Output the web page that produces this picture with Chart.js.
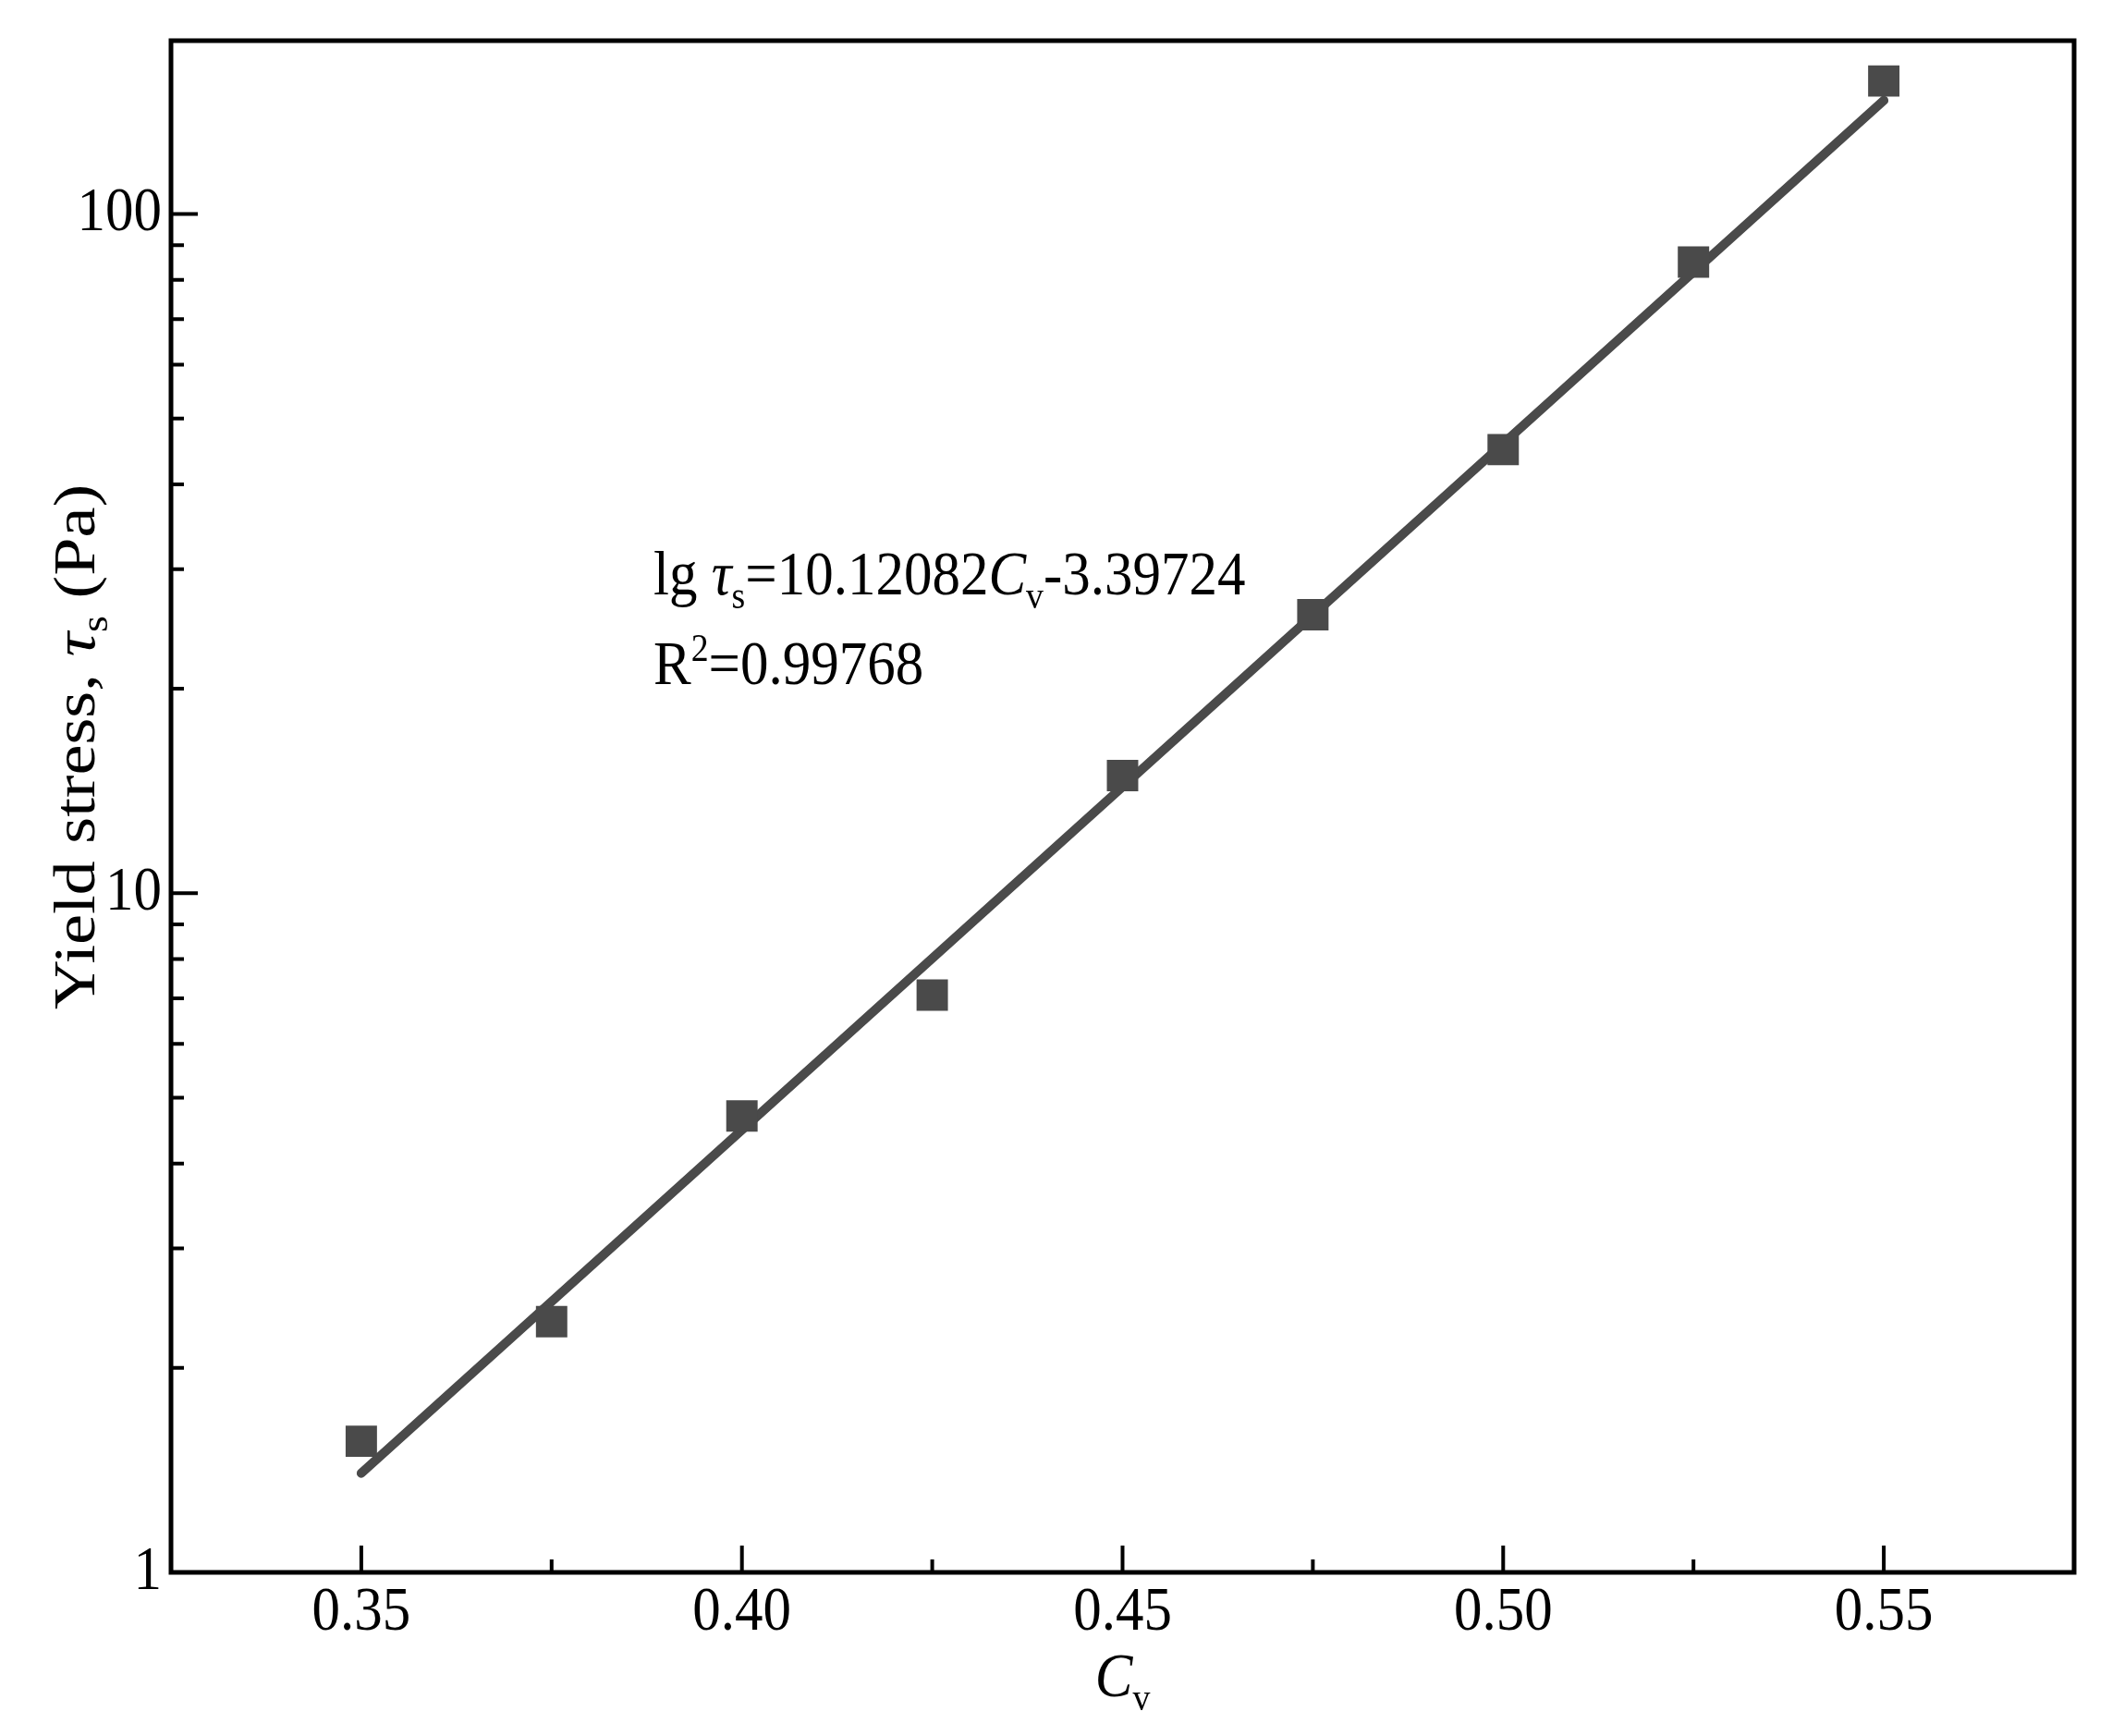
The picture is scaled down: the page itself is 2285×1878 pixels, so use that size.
<!DOCTYPE html>
<html>
<head>
<meta charset="utf-8">
<script src="https://cdn.jsdelivr.net/npm/chart.js@4.4.1/dist/chart.umd.min.js"></script>
<style>
  body { margin: 0; background: #fff; }
  #wrap { width: 2285px; height: 1878px; }
</style>
</head>
<body>
<div id="wrap"><canvas id="chart"></canvas></div>
<script>
// measured points
const cvValues = [0.35, 0.375, 0.40, 0.425, 0.45, 0.475, 0.50, 0.525, 0.55];
const stressValues = [1.56, 2.34, 4.70, 7.08, 14.9, 25.7, 45.0, 85.0, 157];

// fitted line end points
const fitCv = [0.35, 0.55];
const fitStress = [1.40, 147];

// axis ticks
const xMajor = [0.35, 0.40, 0.45, 0.50, 0.55];
const xMajorLabels = ['0.35', '0.40', '0.45', '0.50', '0.55'];
const xMinor = [0.375, 0.425, 0.475, 0.525];
const yMajor = [1, 10, 100];
const yMajorLabels = ['1', '10', '100'];
const yMinor = [2, 3, 4, 5, 6, 7, 8, 9, 20, 30, 40, 50, 60, 70, 80, 90];

const FONT = '"Liberation Serif", "Times New Roman", serif';
const FS = 61;
const STRETCH = 1.1; // glyphs in the figure are a bit taller than wide
const GREY = '#4a4a4a';

// draws a run of pieces: {t, italic, sub, sup}
function runWidth(ctx, parts, size) {
    let w = 0;
    parts.forEach(p => {
        const s = (p.sub || p.sup) ? size * 0.62 : size;
        ctx.font = (p.italic ? 'italic ' : '') + s + 'px ' + FONT;
        w += ctx.measureText(p.t).width;
    });
    return w;
}
function drawRun(ctx, parts, x, y, size) {
    parts.forEach(p => {
        const s = (p.sub || p.sup) ? size * 0.62 : size;
        ctx.font = (p.italic ? 'italic ' : '') + s + 'px ' + FONT;
        let dy = 0;
        if (p.sub) dy = size * 0.22;
        if (p.sup) dy = -size * 0.38;
        ctx.fillText(p.t, x, y + dy);
        x += ctx.measureText(p.t).width;
    });
}

const framePlugin = {
    id: 'frame',
    afterDatasetsDraw(chart) {
        const ctx = chart.ctx;
        const a = chart.chartArea;
        const xs = chart.scales.x, ys = chart.scales.y;
        ctx.save();
        ctx.strokeStyle = '#000';
        ctx.fillStyle = '#000';

        // ticks, pointing inward
        ctx.lineWidth = 4;
        ctx.beginPath();
        xMajor.forEach(v => { const px = xs.getPixelForValue(v); ctx.moveTo(px, a.bottom); ctx.lineTo(px, a.bottom - 29); });
        xMinor.forEach(v => { const px = xs.getPixelForValue(v); ctx.moveTo(px, a.bottom); ctx.lineTo(px, a.bottom - 14); });
        yMajor.forEach(v => { const py = ys.getPixelForValue(v); ctx.moveTo(a.left, py); ctx.lineTo(a.left + 29, py); });
        yMinor.forEach(v => { const py = ys.getPixelForValue(v); ctx.moveTo(a.left, py); ctx.lineTo(a.left + 14, py); });
        ctx.stroke();

        // frame
        ctx.lineWidth = 5;
        ctx.strokeRect(a.left, a.top, a.right - a.left, a.bottom - a.top);

        // tick labels
        ctx.font = FS + 'px ' + FONT;
        ctx.textBaseline = 'alphabetic';
        ctx.textAlign = 'center';
        xMajor.forEach((v, i) => {
            const px = xs.getPixelForValue(v);
            ctx.save(); ctx.translate(px, a.bottom + 62); ctx.scale(1, STRETCH);
            ctx.fillText(xMajorLabels[i], 0, 0); ctx.restore();
        });
        ctx.textAlign = 'right';
        ctx.textBaseline = 'middle';
        yMajor.forEach((v, i) => {
            const py = ys.getPixelForValue(v);
            ctx.save(); ctx.translate(a.left - 10, py); ctx.scale(1, STRETCH);
            ctx.fillText(yMajorLabels[i], 0, 0); ctx.restore();
        });

        // axis titles
        ctx.textAlign = 'left';
        ctx.textBaseline = 'alphabetic';
        const xTitle = [{t: 'C', italic: true}, {t: 'v', sub: true}];
        const xw = runWidth(ctx, xTitle, FS);
        ctx.save(); ctx.translate((a.left + a.right) / 2 - xw / 2, a.bottom + 134); ctx.scale(1, STRETCH);
        drawRun(ctx, xTitle, 0, 0, FS); ctx.restore();

        const YFS = 64;
        const yTitle = [{t: 'Yield stress, '}, {t: '\u03c4', italic: true}, {t: 's', sub: true}, {t: ' (Pa)'}];
        const yw = runWidth(ctx, yTitle, YFS);
        ctx.save(); ctx.translate(a.left - 83, 808); ctx.scale(1, 1.16); ctx.rotate(-Math.PI / 2);
        drawRun(ctx, yTitle, -yw / 2, 0, YFS); ctx.restore();

        // fit equation
        const eq1 = [{t: 'lg '}, {t: '\u03c4', italic: true}, {t: 's', sub: true}, {t: '=10.12082'},
                     {t: 'C', italic: true}, {t: 'v', sub: true}, {t: '-3.39724'}];
        const eq2 = [{t: 'R'}, {t: '2', sup: true}, {t: '=0.99768'}];
        ctx.save(); ctx.translate(707, 643); ctx.scale(1, STRETCH); drawRun(ctx, eq1, 0, 0, FS); ctx.restore();
        ctx.save(); ctx.translate(707, 740); ctx.scale(1, STRETCH); drawRun(ctx, eq2, 0, 0, FS); ctx.restore();

        ctx.restore();
    }
};

new Chart(document.getElementById('chart'), {
    data: {
        datasets: [
            {
                type: 'line',
                data: fitCv.map((x, i) => ({x: x, y: fitStress[i]})),
                borderColor: GREY,
                borderWidth: 10,
                borderCapStyle: 'round',
                pointRadius: 0,
                order: 2
            },
            {
                type: 'scatter',
                data: cvValues.map((x, i) => ({x: x, y: stressValues[i]})),
                pointStyle: 'rect',
                pointRadius: 24,
                backgroundColor: GREY,
                borderWidth: 0,
                order: 1
            }
        ]
    },
    options: {
        responsive: true,
        maintainAspectRatio: false,
        animation: false,
        layout: { padding: { left: 185, right: 41, top: 44, bottom: 177 } },
        plugins: { legend: { display: false }, tooltip: { enabled: false } },
        scales: {
            x: { type: 'linear', min: 0.325, max: 0.575, display: false },
            y: { type: 'logarithmic', min: 1, max: 180, display: false }
        }
    },
    plugins: [framePlugin]
});
</script>
</body>
</html>
